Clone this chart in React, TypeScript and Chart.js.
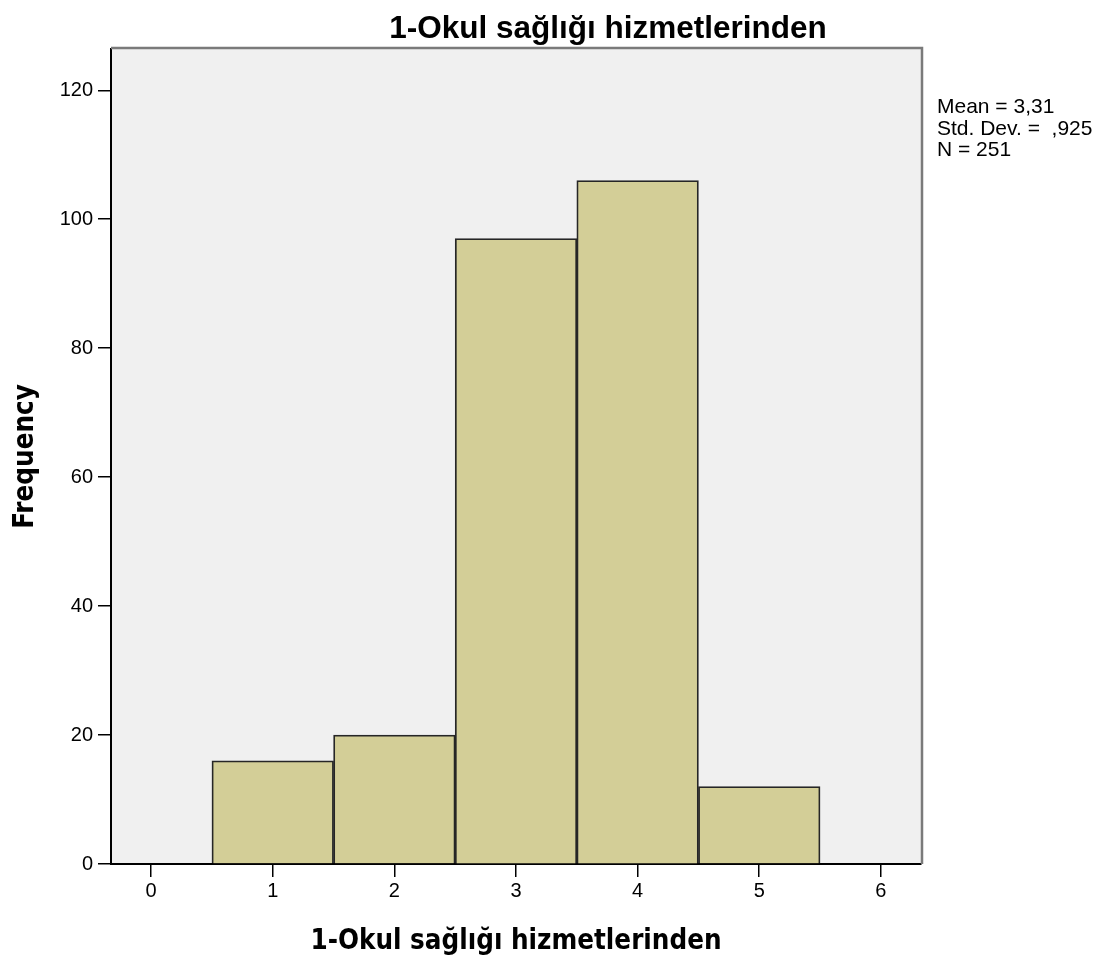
import React, { useEffect, useRef } from "react";
import { Chart, registerables } from "chart.js";

Chart.register(...registerables);

const chartTitle = "1-Okul sağlığı hizmetlerinden";
const xAxisTitle = "1-Okul sağlığı hizmetlerinden";
const yAxisTitle = "Frequency";
const binCenters = [1, 2, 3, 4, 5];
const frequencies = [16, 20, 97, 106, 12];
const xTickValues = [0, 1, 2, 3, 4, 5, 6];
const yTickValues = [0, 20, 40, 60, 80, 100, 120];
const statsLines = ["Mean = 3,31", "Std. Dev. =  ,925", "N = 251"];

const W = 1097;
const H = 961;

const decorPlugin = {
  id: "decor",
  beforeDraw(chart: any) {
    const { ctx, chartArea } = chart;
    ctx.save();
    ctx.fillStyle = "#f0f0f0";
    ctx.fillRect(chartArea.left, chartArea.top, chartArea.right - chartArea.left, chartArea.bottom - chartArea.top);
    ctx.restore();
  },
  afterDraw(chart: any) {
    const { ctx, chartArea } = chart;
    ctx.save();
    ctx.strokeStyle = "#7a7a7a";
    ctx.lineWidth = 2.5;
    ctx.beginPath();
    ctx.moveTo(chartArea.left, chartArea.top - 1);
    ctx.lineTo(chartArea.right + 1, chartArea.top - 1);
    ctx.lineTo(chartArea.right + 1, chartArea.bottom);
    ctx.stroke();
    ctx.fillStyle = "#000";
    ctx.font = "bold 31.5px 'Liberation Sans', Arial, sans-serif";
    ctx.textAlign = "center";
    ctx.textBaseline = "alphabetic";
    ctx.fillText(chartTitle, 608, 38);
    ctx.font = "21px 'Liberation Sans', Arial, sans-serif";
    ctx.textAlign = "left";
    statsLines.forEach((line, i) => {
      ctx.fillText(line, 937, 113 + i * 21.5);
    });
    ctx.restore();
  },
};

export default function App() {
  const canvasRef = useRef<HTMLCanvasElement | null>(null);

  useEffect(() => {
    const canvas = canvasRef.current;
    if (!canvas) return;
    const chart = new Chart(canvas, {
      type: "bar",
      data: {
        datasets: [
          {
            data: binCenters.map((x, i) => ({ x, y: frequencies[i] })),
            backgroundColor: "#d3ce97",
            borderColor: "#262626",
            borderWidth: 1.8,
            barPercentage: 1,
            categoryPercentage: 1,
          },
        ],
      },
      options: {
        responsive: false,
        animation: false,
        events: [],
        layout: { padding: { left: 0, top: 49, right: 176, bottom: 0 } },
        plugins: {
          legend: { display: false },
          title: { display: false },
          tooltip: { enabled: false },
        },
        scales: {
          x: {
            type: "linear",
            offset: false,
            min: -0.33,
            max: 6.33,
            afterBuildTicks: (scale: any) => {
              scale.ticks = xTickValues.map((v) => ({ value: v }));
            },
            afterFit: (scale: any) => {
              scale.height = 97;
            },
            grid: {
              offset: false,
              drawOnChartArea: false,
              drawTicks: true,
              tickLength: 13,
              color: "#000",
              lineWidth: 1.5,
            },
            border: { display: true, color: "#000", width: 2 },
            ticks: {
              padding: 2,
              color: "#000",
              font: { family: "'Liberation Sans', Arial, sans-serif", size: 20 },
              callback: (v: any) => String(v),
            },
            title: {
              display: true,
              text: xAxisTitle,
              color: "#000",
              padding: { top: 0, bottom: 3 },
              font: { family: "'DejaVu Sans Condensed', 'DejaVu Sans', sans-serif", size: 27.5, weight: "bold" },
            },
          },
          y: {
            type: "linear",
            min: 0,
            max: 126.4,
            afterBuildTicks: (scale: any) => {
              scale.ticks = yTickValues.map((v) => ({ value: v }));
            },
            afterFit: (scale: any) => {
              scale.width = 111;
            },
            grid: {
              drawOnChartArea: false,
              drawTicks: true,
              tickLength: 13,
              color: "#000",
              lineWidth: 1.5,
            },
            border: { display: true, color: "#000", width: 2 },
            ticks: {
              padding: 5,
              color: "#000",
              font: { family: "'Liberation Sans', Arial, sans-serif", size: 20 },
              callback: (v: any) => String(v),
            },
            title: {
              display: true,
              text: yAxisTitle,
              color: "#000",
              padding: { top: 9, bottom: 0 },
              font: { family: "'DejaVu Sans Condensed', 'DejaVu Sans', sans-serif", size: 27.5, weight: "bold" },
            },
          },
        },
      },
      plugins: [decorPlugin],
    } as any);
    return () => chart.destroy();
  }, []);

  return (
    <div style={{ position: "absolute", left: 0, top: 0, width: W, height: H, background: "#fff" }}>
      <canvas ref={canvasRef} width={W} height={H} style={{ display: "block" }} />
    </div>
  );
}
